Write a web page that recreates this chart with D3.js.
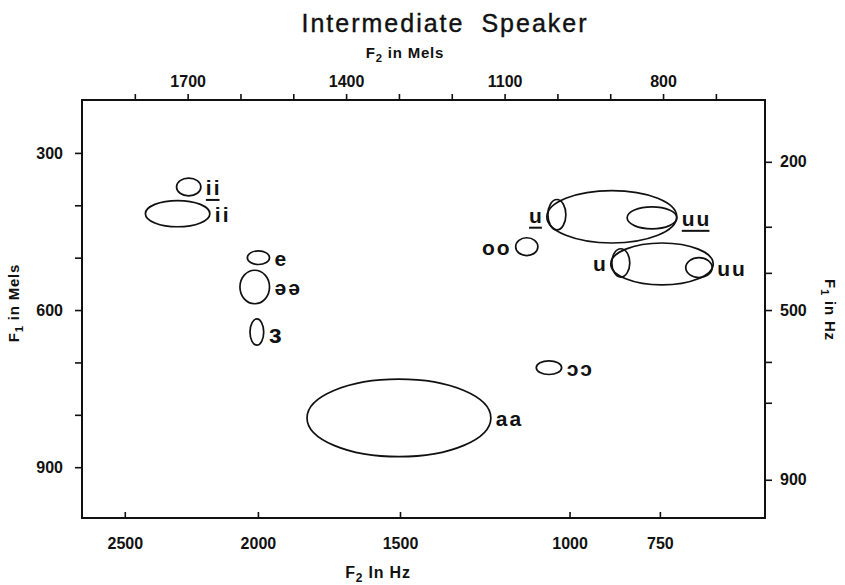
<!DOCTYPE html>
<html>
<head>
<meta charset="utf-8">
<script src="https://cdn.jsdelivr.net/npm/d3@7"></script>
<style>
body { margin: 0; background: #fff; }
svg text { font-family: "Liberation Sans", Arial, Helvetica, sans-serif; fill: #111; }
</style>
</head>
<body>
<svg id="chart" width="845" height="585"></svg>
<script>
// Vowel target ellipses, F2 / F1 centres and half-spreads in mels.
const vowelLabels = ["ii", "ii", "e", "əə", "ɜ", "aa", "ɔɔ", "oo", "u", "", "uu", "u", "", "uu"];
const underlined  = [true, false, false, false, false, false, false, false, true, false, true, false, false, false];
const labelSide   = ["right", "right", "right", "right", "right", "right", "right", "left", "left", "", "right", "left", "", "right"];
const f2Centre    = [1698, 1719, 1566, 1573, 1569, 1300, 1016, 1058, 1001, 897, 821, 880, 802, 732];
const f1Centre    = [365, 416, 500, 556, 642, 806, 710, 479, 418, 422, 424, 510, 512, 519];
const f2Spread    = [23, 61, 21, 28, 13, 174, 24, 21, 17, 123, 47, 17, 97, 25];
const f1Spread    = [17, 25, 13, 32, 25, 74, 13, 17, 29, 50, 21, 27, 40, 19];

// axes: mel ticks (top/left), Hz ticks with their mel equivalents (bottom/right)
const f2MelTicks  = [1800, 1700, 1600, 1500, 1400, 1300, 1200, 1100, 1000, 900, 800, 700];
const f2MelLabels = [1700, 1400, 1100, 800];
const f1MelTicks  = [300, 400, 500, 600, 700, 800, 900];
const f1MelLabels = [300, 600, 900];
const f2HzTicks   = [2500, 2000, 1500, 1000, 750];
const f2HzMels    = [1819, 1567, 1298, 977, 806];
const f1HzTicks   = [200, 300, 400, 500, 600, 700, 900];
const f1HzMels    = [317, 441, 529, 600, 699, 777, 924];
const f1HzLabels  = [200, 500, 900];

const svg = d3.select("#chart");
const box = { left: 82, right: 765, top: 100, bottom: 518 };

const x = d3.scaleLinear().domain([1900, 607]).range([box.left, box.right]);
const y = d3.scaleLinear().domain([199, 997]).range([box.top, box.bottom]);
const xHz = d3.scaleLinear().domain(f2HzTicks).range(f2HzMels.map(m => x(m)));
const yHz = d3.scaleLinear().domain(f1HzTicks).range(f1HzMels.map(m => y(m)));

// strip d3's default axis font so the page css applies
function styleAxis(g) {
    g.attr("font-family", null).attr("font-size", null);
    g.select(".domain").remove();
    g.selectAll("line").attr("stroke", "#111").attr("stroke-width", 1.6);
    g.selectAll("text").attr("font-size", 16).attr("font-weight", "bold");
}

svg.append("g")
    .attr("transform", `translate(0,${box.top})`)
    .call(d3.axisTop(x).tickValues(f2MelTicks).tickSize(6).tickPadding(7)
        .tickFormat(d => f2MelLabels.includes(d) ? d : ""))
    .call(styleAxis);

svg.append("g")
    .attr("transform", `translate(${box.left},0)`)
    .call(d3.axisLeft(y).tickValues(f1MelTicks).tickSize(7).tickPadding(12)
        .tickFormat(d => f1MelLabels.includes(d) ? d : ""))
    .call(styleAxis);

svg.append("g")
    .attr("transform", `translate(${box.right},0)`)
    .call(d3.axisRight(yHz).tickValues(f1HzTicks).tickSize(7).tickPadding(8)
        .tickFormat(d => f1HzLabels.includes(d) ? d : ""))
    .call(styleAxis);

// bottom ticks point inward
svg.append("g")
    .attr("transform", `translate(0,${box.bottom})`)
    .call(d3.axisBottom(xHz).tickValues(f2HzTicks).tickSize(-6).tickPadding(20)
        .tickFormat(d3.format("d")))
    .call(styleAxis);

// frame
svg.append("rect")
    .attr("x", box.left).attr("y", box.top)
    .attr("width", box.right - box.left).attr("height", box.bottom - box.top)
    .attr("fill", "none").attr("stroke", "#111").attr("stroke-width", 2);

// titles
svg.append("text")
    .attr("x", 445).attr("y", 32)
    .attr("text-anchor", "middle")
    .attr("font-size", 25).attr("letter-spacing", 2)
    .attr("word-spacing", 8)
    .attr("stroke", "#111").attr("stroke-width", 0.4)
    .text("Intermediate Speaker");

function subLabel(sel, main, sub, rest) {
    sel.append("tspan").text(main);
    sel.append("tspan").attr("font-size", "0.75em").attr("dy", 4).text(sub);
    sel.append("tspan").attr("dy", -4).text(rest);
}

svg.append("text")
    .attr("x", 405).attr("y", 58)
    .attr("text-anchor", "middle")
    .attr("font-size", 15).attr("font-weight", "bold").attr("letter-spacing", 0.8)
    .call(subLabel, "F", "2", " in Mels");

svg.append("text")
    .attr("x", 378).attr("y", 578)
    .attr("text-anchor", "middle")
    .attr("font-size", 16).attr("font-weight", "bold").attr("letter-spacing", 0.8)
    .call(subLabel, "F", "2", " In Hz");

svg.append("text")
    .attr("transform", "translate(19,303) rotate(-90)")
    .attr("text-anchor", "middle")
    .attr("font-size", 15).attr("font-weight", "bold").attr("letter-spacing", 0.8)
    .call(subLabel, "F", "1", " in Mels");

svg.append("text")
    .attr("transform", "translate(825,310) rotate(90)")
    .attr("text-anchor", "middle")
    .attr("font-size", 15).attr("font-weight", "bold").attr("letter-spacing", 0.8)
    .call(subLabel, "F", "1", " in Hz");

// vowel ellipses
const idx = d3.range(f2Centre.length);
const plot = svg.append("g");

plot.selectAll("ellipse")
    .data(idx)
    .join("ellipse")
    .attr("cx", i => x(f2Centre[i]))
    .attr("cy", i => y(f1Centre[i]))
    .attr("rx", i => Math.abs(x(f2Centre[i] + f2Spread[i]) - x(f2Centre[i])))
    .attr("ry", i => Math.abs(y(f1Centre[i] + f1Spread[i]) - y(f1Centre[i])))
    .attr("fill", "none")
    .attr("stroke", "#111")
    .attr("stroke-width", 1.7);

const labels = plot.selectAll("text.vowel")
    .data(idx.filter(i => vowelLabels[i] !== ""))
    .join("text")
    .attr("class", "vowel")
    .attr("x", i => {
        const rx = Math.abs(x(f2Centre[i] + f2Spread[i]) - x(f2Centre[i]));
        return labelSide[i] === "right" ? x(f2Centre[i]) + rx + 5 : x(f2Centre[i]) - rx - 4;
    })
    .attr("y", i => y(f1Centre[i]))
    .attr("dy", i => vowelLabels[i] === "ɜ" ? "0.42em" : "0.38em")
    .attr("text-anchor", i => labelSide[i] === "right" ? "start" : "end")
    // the reversed epsilon is drawn taller than the other symbols in the source
    .attr("font-size", i => vowelLabels[i] === "ɜ" ? 26 : 21)
    .attr("font-weight", "bold").attr("letter-spacing", 2)
    .text(i => vowelLabels[i]);

// underline marked labels
labels.filter(i => underlined[i]).each(function() {
    const b = this.getBBox();
    plot.append("line")
        .attr("x1", b.x).attr("x2", b.x + b.width - 2)
        .attr("y1", b.y + b.height + 1).attr("y2", b.y + b.height + 1)
        .attr("stroke", "#111").attr("stroke-width", 2);
});
</script>
</body>
</html>
